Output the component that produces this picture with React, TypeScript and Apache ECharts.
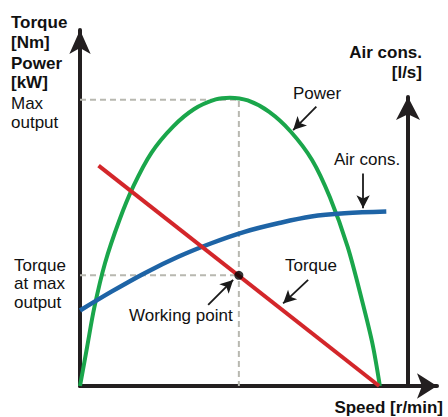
import React, { useEffect, useRef } from "react";
import * as echarts from "echarts";

// Speed units 0..100 along the x axis, value units 0..100 along the left axis
const powerData: number[][] = [
  [0, 0], [2, 11], [4, 22], [7, 34.5], [11, 46.5], [15, 56.2], [20, 65.5], [26, 72.8],
  [32, 77.8], [38, 80.5], [42, 81.0], [47, 80.2], [53, 77.0], [59, 71.5], [65, 63.5],
  [70, 53], [75, 39], [79, 24], [82, 11.5], [84, 0],
];
const torqueData: number[][] = [[5.2, 61.9], [83.8, 0]];
const airData: number[][] = [
  [0, 21.2], [8.8, 26.5], [18.1, 31.7], [27.5, 36.3], [36.8, 40.1], [46.1, 43.3],
  [55.5, 45.7], [64.8, 47.6], [74.1, 48.5], [85.8, 49.0],
];
const workingSpeed = 44.5;
const workingTorque = 31.1;
const maxOutput = 80.4;

// annotation arrows: [tail, tip]
const arrowPower = [[66.2, 78.5], [59.7, 71.9]];
const arrowAir = [[79.3, 59.7], [79.3, 49.9]];
const arrowTorque = [[63.9, 29.8], [56.9, 23.2]];
const arrowWorking = [[35.9, 22.8], [42.9, 29.8]];

const FONT = '"Liberation Sans", Arial, sans-serif';
const AXIS = "#231f20";

function txt(text: string, x: number, y: number, bold = false, align = "left") {
  return {
    type: "text",
    x,
    y,
    style: {
      text,
      fill: "#111",
      fontFamily: FONT,
      fontSize: 17,
      fontWeight: bold ? "bold" : "normal",
      textAlign: align,
      textVerticalAlign: "middle",
    },
  };
}

export default function App() {
  const ref = useRef<HTMLDivElement>(null);
  useEffect(() => {
    document.body.style.margin = "0";
    const chart = echarts.init(ref.current!, null, { renderer: "svg" });
    const hidden = {
      axisTick: { show: false },
      axisLabel: { show: false },
      splitLine: { show: false },
    };
    const arrow = (a: number[][]) => [
      { coord: a[0], symbol: "none" },
      { coord: a[1], symbol: "arrow" },
    ];
    chart.setOption({
      animation: false,
      backgroundColor: "#ffffff",
      grid: [
        { left: 80, right: 11, top: 30, bottom: 31 },
        { left: 80, right: 40, top: 97, bottom: 31 },
      ],
      xAxis: [
        {
          type: "value", gridIndex: 0, min: 0, max: 100, ...hidden,
          axisLine: { show: true, symbol: ["none", "arrow"], symbolSize: [19, 20], lineStyle: { color: AXIS, width: 4 } },
        },
        { type: "value", gridIndex: 1, min: 0, max: 1, show: false },
      ],
      yAxis: [
        {
          type: "value", gridIndex: 0, min: 0, max: 100, ...hidden,
          axisLine: { show: true, onZero: false, symbol: ["none", "arrow"], symbolSize: [16, 24], lineStyle: { color: AXIS, width: 4 } },
        },
        {
          type: "value", gridIndex: 1, min: 0, max: 1, position: "right", ...hidden,
          axisLine: { show: true, onZero: false, symbol: ["none", "arrow"], symbolSize: [18, 23], lineStyle: { color: AXIS, width: 4 } },
        },
      ],
      series: [
        {
          type: "line", data: [[0, maxOutput], [workingSpeed, maxOutput], [workingSpeed, 0]],
          symbol: "none", silent: true, z: 1,
          lineStyle: { color: "#b8b8b0", width: 2, type: [6, 4] },
        },
        {
          type: "line", data: [[0, workingTorque], [workingSpeed, workingTorque]],
          symbol: "none", silent: true, z: 1,
          lineStyle: { color: "#b8b8b0", width: 2, type: [6, 4] },
        },
        {
          type: "line", data: powerData, smooth: 0.3, symbol: "none", z: 2,
          lineStyle: { color: "#1aa64b", width: 4 },
        },
        {
          type: "line", data: airData, smooth: 0.35, symbol: "none", z: 3,
          lineStyle: { color: "#1e64a6", width: 4.5 },
        },
        {
          type: "line", data: torqueData, symbol: "none", z: 4,
          lineStyle: { color: "#d3262a", width: 4 },
        },
        {
          type: "scatter", data: [[workingSpeed, workingTorque]], symbolSize: 9, z: 5,
          itemStyle: { color: "#000" },
          markLine: {
            silent: true,
            symbolSize: [10, 13],
            label: { show: false },
            lineStyle: { color: "#1a1a1a", width: 1.8, type: "solid" },
            data: [arrow(arrowPower), arrow(arrowAir), arrow(arrowTorque), arrow(arrowWorking)],
          },
        },
      ],
      graphic: [
        txt("Torque", 11, 22, true),
        txt("[Nm]", 11, 42, true),
        txt("Power", 11, 63, true),
        txt("[kW]", 11, 82, true),
        txt("Max", 11, 103),
        txt("output", 11, 122),
        txt("Torque", 14, 265),
        txt("at max", 14, 283),
        txt("output", 14, 302),
        txt("Power", 293, 93),
        txt("Air cons.", 422, 52, true, "right"),
        txt("[l/s]", 422, 72, true, "right"),
        txt("Air cons.", 334, 159),
        txt("Torque", 285, 265),
        txt("Working point", 129, 315),
        txt("Speed [r/min]", 443, 407, true, "right"),
      ],
    });
    return () => chart.dispose();
  }, []);
  return <div ref={ref} style={{ width: 448, height: 417 }} />;
}
